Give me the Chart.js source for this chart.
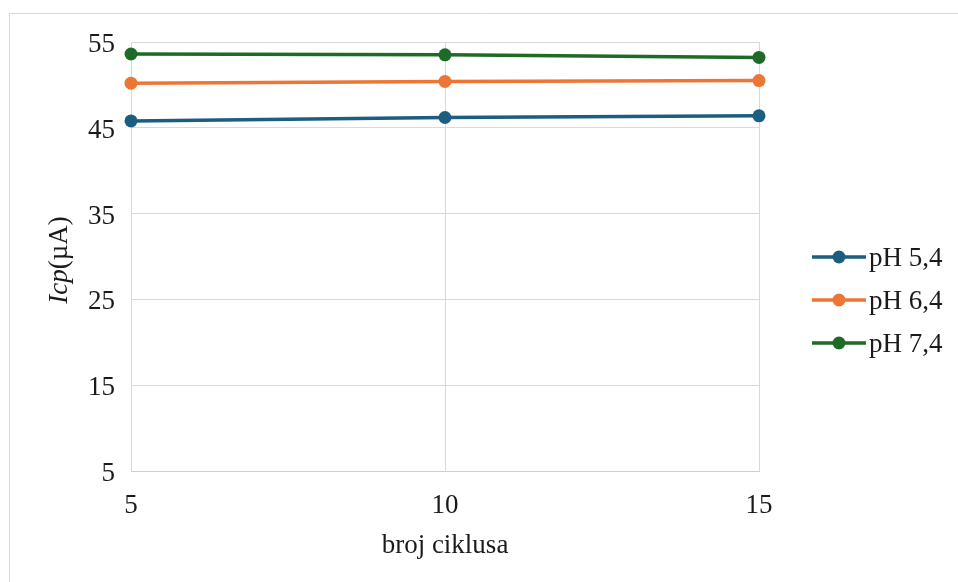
<!DOCTYPE html>
<html lang="hr">
<head>
<meta charset="UTF-8">
<title>Icp - broj ciklusa</title>
<script src="https://cdn.jsdelivr.net/npm/chart.js"></script>
<style>
  html, body { margin: 0; padding: 0; background: #fff; }
  #wrap { width: 958px; height: 582px; position: relative; }
</style>
</head>
<body>
<div id="wrap"><canvas id="grafico"></canvas></div>
<script>
// podaci
const ciklusi = [5, 10, 15];
const serije = ['pH 5,4', 'pH 6,4', 'pH 7,4'];
const ph54 = [45.8, 46.2, 46.4];
const ph64 = [50.2, 50.4, 50.5];
const ph74 = [53.6, 53.5, 53.2];
const boje = ['#1b5e80', '#ed7635', '#1e6b27'];
const yTicks = [5, 15, 25, 35, 45, 55];

const fontSerif = "'Liberation Serif', 'Times New Roman', serif";
const velicina = 27;
const vrijednosti = [ph54, ph64, ph74];

const datasets = serije.map(function (s, i) {
  return {
    label: s,
    data: ciklusi.map((c, j) => ({ x: c, y: vrijednosti[i][j] })),
    borderColor: boje[i],
    backgroundColor: boje[i],
    borderWidth: 3.5,
    pointRadius: 6.5,
    pointHoverRadius: 6.5,
    pointBorderWidth: 0,
    clip: false,
    tension: 0
  };
});

// okvir, naslov y osi i legenda
const dodaci = {
  id: 'dodaci',
  beforeDraw(chart) {
    const ctx = chart.ctx;
    ctx.save();
    ctx.strokeStyle = '#d9d9d9';
    ctx.lineWidth = 1;
    ctx.beginPath();
    ctx.moveTo(9.5, 582);
    ctx.lineTo(9.5, 13.5);
    ctx.lineTo(958, 13.5);
    ctx.stroke();
    ctx.restore();
  },
  afterDraw(chart) {
    const ctx = chart.ctx;
    ctx.save();
    // naslov y osi: Icp(µA)
    ctx.translate(60, 260);
    ctx.rotate(-Math.PI / 2);
    ctx.fillStyle = '#1a1a1a';
    ctx.textBaseline = 'middle';
    const italic = 'italic ' + velicina + 'px ' + fontSerif;
    const normal = velicina + 'px ' + fontSerif;
    ctx.font = italic;
    const w1 = ctx.measureText('Icp').width;
    ctx.font = normal;
    const w2 = ctx.measureText('(µA)').width;
    const x0 = -(w1 + w2) / 2;
    ctx.font = italic;
    ctx.textAlign = 'left';
    ctx.fillText('Icp', x0, 0);
    ctx.font = normal;
    ctx.fillText('(µA)', x0 + w1, 0);
    ctx.restore();

    // legenda
    ctx.save();
    chart.data.datasets.forEach(function (ds, i) {
      const y = 257 + i * 43;
      ctx.strokeStyle = ds.borderColor;
      ctx.lineWidth = 3.5;
      ctx.beginPath();
      ctx.moveTo(812, y);
      ctx.lineTo(866, y);
      ctx.stroke();
      ctx.fillStyle = ds.borderColor;
      ctx.beginPath();
      ctx.arc(839, y, 6.5, 0, Math.PI * 2);
      ctx.fill();
      ctx.fillStyle = '#1a1a1a';
      ctx.font = velicina + 'px ' + fontSerif;
      ctx.textAlign = 'left';
      ctx.textBaseline = 'middle';
      ctx.fillText(ds.label, 869, y + 2);
    });
    ctx.restore();
  }
};

const config = {
  type: 'line',
  data: { datasets: datasets },
  options: {
    responsive: false,
    animation: false,
    layout: { padding: { top: 42, right: 199, left: 0, bottom: 0 } },
    plugins: {
      legend: { display: false },
      tooltip: { enabled: false }
    },
    scales: {
      x: {
        type: 'linear',
        min: 5,
        max: 15,
        afterFit(scale) { scale.height = 111; },
        afterBuildTicks(scale) { scale.ticks = ciklusi.map(v => ({ value: v })); },
        grid: { color: '#d9d9d9', drawTicks: false },
        border: { color: '#d0d0d0' },
        ticks: { padding: 19, color: '#1a1a1a', font: { family: fontSerif, size: velicina } },
        title: {
          display: true,
          text: 'broj ciklusa',
          color: '#1a1a1a',
          font: { family: fontSerif, size: velicina },
          padding: { top: 0, bottom: 20 }
        }
      },
      y: {
        min: 5,
        max: 55,
        afterFit(scale) { scale.width = 131; },
        afterBuildTicks(scale) { scale.ticks = yTicks.map(v => ({ value: v })); },
        grid: { color: '#d9d9d9', drawTicks: false },
        border: { display: false },
        ticks: { padding: 16, labelOffset: 3, color: '#1a1a1a', font: { family: fontSerif, size: velicina } }
      }
    }
  },
  plugins: [dodaci]
};

const canvas = document.getElementById('grafico');
canvas.width = 958;
canvas.height = 582;
const grafico = new Chart(canvas, config);
</script>
</body>
</html>
